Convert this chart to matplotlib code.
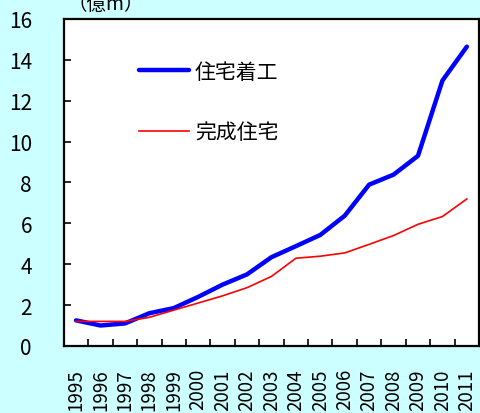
import numpy as np
import matplotlib.pyplot as plt
from matplotlib.ticker import FixedLocator

plt.rcParams['font.family'] = ['Noto Sans CJK JP', 'DejaVu Sans']

years = [str(y) for y in range(1995, 2012)]
starts = [1.25, 1.0, 1.1, 1.6, 1.85, 2.4, 3.0, 3.5, 4.34, 4.88, 5.43, 6.37, 7.89, 8.38, 9.3, 12.98, 14.64]
completed = [1.2, 1.2, 1.2, 1.4, 1.75, 2.1, 2.45, 2.85, 3.4, 4.29, 4.39, 4.55, 4.97, 5.4, 5.95, 6.33, 7.19]

bg = '#ccffff'
fig = plt.figure(figsize=(4.8, 4.14), dpi=100, facecolor=bg)
ax = fig.add_axes([0.133, 0.162, 0.865, 0.79])
ax.set_facecolor('white')

x = np.arange(len(years))
ax.plot(x, starts, color='#0000ff', lw=3.2, solid_capstyle='round', label='住宅着工')
ax.plot(x, completed, color='#ff0000', lw=1.2, label='完成住宅')

ax.set_xlim(-0.5, len(years) - 0.5)
ax.set_ylim(0, 16)
ax.set_yticks(range(0, 17, 2))
ax.set_xticks(x)
ax.set_xticklabels(years, rotation=90, fontsize=13.5)
ax.xaxis.set_minor_locator(FixedLocator(x[:-1] + 0.5))
ax.tick_params(axis='x', which='major', length=0, pad=16)
ax.tick_params(axis='x', which='minor', direction='in', length=5, width=1.2)
ax.tick_params(axis='y', direction='in', length=5, width=1.2, labelsize=15, pad=23)

for s in ax.spines.values():
    s.set_linewidth(1.6)
    s.set_color('black')

leg = ax.legend(loc='upper left', bbox_to_anchor=(0.135, 0.93), frameon=False,
                fontsize=15, handlelength=2.4, labelspacing=1.85, handletextpad=0.3)

fig.text(0.22, 0.99, '（億m）', fontsize=14, ha='center', va='center')

fig.savefig('out.png', dpi=100, facecolor=bg)
